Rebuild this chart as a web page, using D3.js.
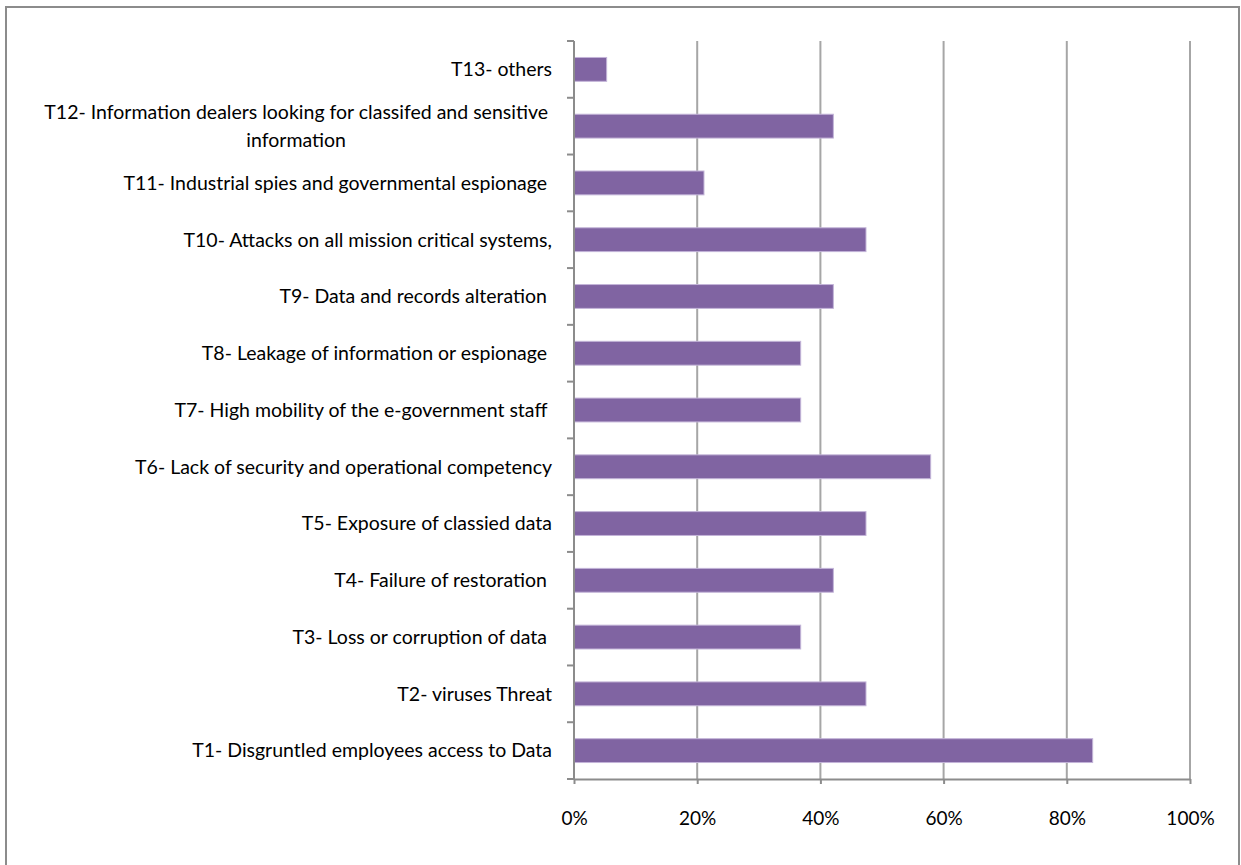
<!DOCTYPE html>
<html>
<head>
<meta charset="utf-8">
<script src="https://cdn.jsdelivr.net/npm/d3@7"></script>
<style>
  html, body { margin:0; padding:0; background:#fff; }
  svg { display:block; }
  .lbl { white-space: pre; }
</style>
</head>
<body>
<svg id="chart" width="1241" height="865"></svg>
<script>
// threats T1..T13 (share of respondents)
const threats = [
  "T1- Disgruntled employees access to Data",
  "T2- viruses Threat",
  "T3- Loss or corruption of data ",
  "T4- Failure of restoration ",
  "T5- Exposure of classied data",
  "T6- Lack of security and operational competency",
  "T7- High mobility of the e-government staff ",
  "T8- Leakage of information or espionage ",
  "T9- Data and records alteration ",
  "T10- Attacks on all mission critical systems,",
  "T11- Industrial spies and governmental espionage ",
  "T12- Information dealers looking for classifed and sensitive\ninformation",
  "T13- others"
];
const shares = [0.842, 0.474, 0.368, 0.421, 0.474, 0.579, 0.368, 0.368, 0.421, 0.474, 0.211, 0.421, 0.053];
const xTicks = [0, 0.2, 0.4, 0.6, 0.8, 1];

const rows = threats.map((t,i)=>({label:t, value:shares[i]}));

const svg = d3.select("#chart");
const FONT = "Lato, 'Open Sans', sans-serif";

// outer frame
svg.append("rect")
  .attr("x", 6).attr("y", 7)
  .attr("width", 1233).attr("height", 880)
  .attr("fill", "#fff")
  .attr("stroke", "#8c8c8c")
  .attr("stroke-width", 2);

const pLeft = 574, pRight = 1190, pTop = 41, pBottom = 779;

const x = d3.scaleLinear().domain([0,1]).range([pLeft, pRight]);
const y = d3.scaleBand()
  .domain(rows.map(d=>d.label).reverse())
  .range([pTop, pBottom])
  .paddingInner(0.58)
  .paddingOuter(0.29);

// gridlines
svg.append("g")
  .selectAll("line")
  .data(xTicks.filter(v=>v>0))
  .enter().append("line")
  .attr("x1", d=>x(d)).attr("x2", d=>x(d))
  .attr("y1", pTop).attr("y2", pBottom)
  .attr("stroke", "#a6a6a6")
  .attr("stroke-width", 2);

// bars
svg.append("g")
  .selectAll("rect")
  .data(rows)
  .enter().append("rect")
  .attr("x", x(0))
  .attr("y", d=>y(d.label))
  .attr("width", d=>x(d.value)-x(0))
  .attr("height", y.bandwidth())
  .attr("fill", "#8064a2")
  .attr("stroke", "#c3b4d8")
  .attr("stroke-width", 1);

// x axis
const xAxis = svg.append("g")
  .attr("transform", `translate(0,${pBottom})`)
  .call(d3.axisBottom(x).tickValues(xTicks).tickFormat(d3.format(".0%")).tickSize(5).tickSizeOuter(0));
xAxis.select(".domain").attr("stroke", "#8c8c8c").attr("stroke-width", 2);
xAxis.selectAll(".tick line").attr("stroke", "#8c8c8c").attr("stroke-width", 2);
xAxis.selectAll(".tick text")
  .attr("y", 40)
  .attr("dy", "0.32em")
  .attr("fill", "#000")
  .style("font-family", FONT)
  .style("font-size", "19px");

// y axis line + tick marks at band boundaries
const step = y.step();
const yEdges = d3.range(rows.length+1).map(i=>pTop + i*step);
svg.append("line")
  .attr("x1", pLeft).attr("x2", pLeft)
  .attr("y1", pTop).attr("y2", pBottom)
  .attr("stroke", "#8c8c8c").attr("stroke-width", 2);
svg.append("g")
  .selectAll("line")
  .data(yEdges)
  .enter().append("line")
  .attr("x1", pLeft-7).attr("x2", pLeft)
  .attr("y1", d=>d).attr("y2", d=>d)
  .attr("stroke", "#8c8c8c").attr("stroke-width", 2);

// category labels
const lblX = 552;
rows.forEach(d=>{
  const lines = d.label.split("\n");
  const cy = y(d.label) + y.bandwidth()/2;
  const lh = 28;
  const t = svg.append("text")
    .attr("class", "lbl")
    .attr("fill", "#000")
    .style("font-family", FONT)
    .style("font-size", "19.5px");
  if (lines.length === 1){
    t.attr("x", lblX).attr("y", cy).attr("dy", "0.35em")
      .attr("text-anchor", "end").text(lines[0]);
  } else {
    // centered block, right edge on lblX
    const tmp = [];
    lines.forEach((ln,i)=>{
      tmp.push(t.append("tspan").text(ln)
        .attr("y", cy + (i-(lines.length-1)/2)*lh).attr("dy","0.35em"));
    });
    const wMax = d3.max(tmp, s=>s.node().getComputedTextLength());
    const cx = lblX - 4 - wMax/2;
    tmp.forEach(s=>s.attr("x", cx).attr("text-anchor","middle"));
  }
});
</script>
</body>
</html>
